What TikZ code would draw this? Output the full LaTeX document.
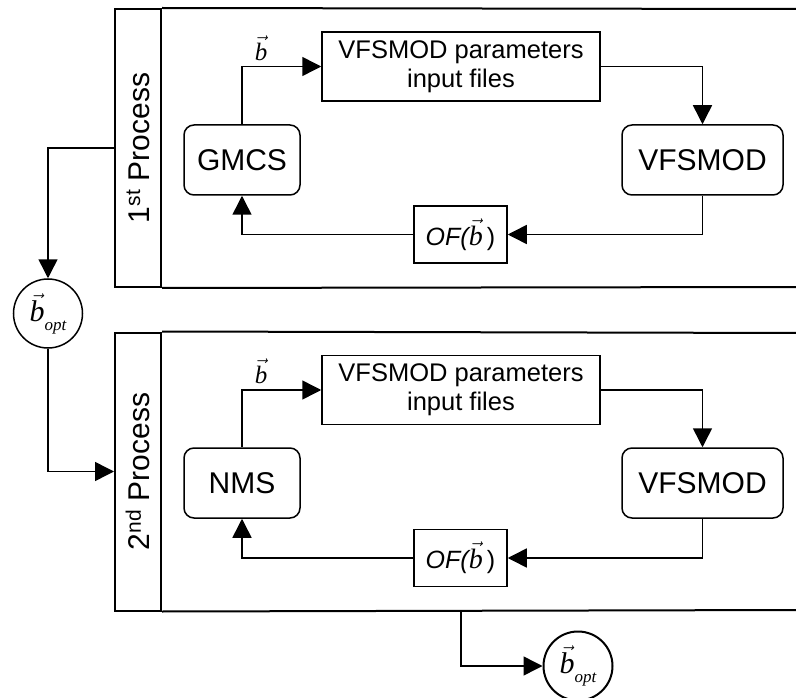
\documentclass[tikz,border=0pt]{standalone}
\usepackage{amsmath}
\usepackage{fontspec}
\setmainfont{Liberation Sans}
\newfontfamily\tmsfont{Liberation Serif}
\usetikzlibrary{arrows.meta}
\newcommand\vecb{\ensuremath{\vec{\text{\tmsfont\itshape b}}}}
\newcommand\bopt{{\fontsize{30}{34}\selectfont\vecb}\raisebox{-9pt}{\fontsize{17}{20}\selectfont\tmsfont\itshape opt}}
\begin{document}
\begin{tikzpicture}[x=1pt, y=-1pt,
  >={Triangle[length=19pt,width=19pt]},
  poolline/.style={line width=2pt},
  lanebox/.style={draw, line width=2pt, minimum width=46pt, minimum height=278pt, inner sep=0pt, font=\fontsize{30}{36}\selectfont},
  proc/.style={draw, line width=1.5pt, rounded corners=10pt, minimum width=116pt, minimum height=70pt, inner sep=0pt, font=\fontsize{30}{36}\selectfont},
  widеproc/.style={},
  inbox/.style={draw, line width=1.5pt, minimum width=278pt, minimum height=69pt, inner sep=0pt, align=center, font=\fontsize{25.5}{29}\selectfont},
  ofbox/.style={draw, line width=1.5pt, minimum width=93pt, minimum height=57pt, inner sep=0pt, font=\fontsize{25}{30}\selectfont},
  optnode/.style={draw, circle, line width=1.5pt, minimum size=69pt, inner sep=0pt},
  vlabel/.style={inner sep=0pt, font=\fontsize{25}{30}\selectfont},
  conn/.style={line width=1.5pt, ->}
]
\useasboundingbox (0,0) rectangle (796,698);

% ---------- Process 1 ----------
\node[lanebox] (lane1) at (138,148) {\rotatebox{90}{1\textsuperscript{st} Process}};
\coordinate (p1tr) at (800,9);
\coordinate (p1br) at (800,287);
\draw[poolline] (lane1.north east) -- (p1tr);
\draw[poolline] (lane1.south east) -- (p1br);

\node[proc] (gmcs) at (242,160) {GMCS};
\node[inbox] (par1) at (461,66.5) {VFSMOD parameters\\input files};
\node[proc, minimum width=161pt] (vf1) at (702.5,160) {VFSMOD};
\node[ofbox] (of1) at (460.5,234.5) {{\itshape OF(}{\fontsize{28}{30}\selectfont\vecb}\,)};
\node[vlabel] (b1) at (261,48) {\vecb};

\draw[conn] (gmcs.north) |- (par1.west);
\draw[conn] (par1.east) -| (vf1.north);
\draw[conn] (vf1.south) |- (of1.east);
\draw[conn] (of1.west) -| (gmcs.south);

% ---------- optimum 1 ----------
\node[optnode] (opt1) at (48,313.5) {\bopt};
\draw[conn] (lane1.west) -| (opt1.north);

% ---------- Process 2 ----------
\node[lanebox] (lane2) at (138,471.5) {\rotatebox{90}{2\textsuperscript{nd} Process}};
\coordinate (p2tr) at (800,333);
\coordinate (p2br) at (800,610);
\draw[poolline] (lane2.north east) -- (p2tr);
\draw[poolline] (lane2.south east) -- (p2br);

\node[proc] (nms) at (242,483) {NMS};
\node[inbox] (par2) at (461,390) {VFSMOD parameters\\input files};
\node[proc, minimum width=161pt] (vf2) at (702.5,483) {VFSMOD};
\node[ofbox] (of2) at (460.5,558) {{\itshape OF(}{\fontsize{28}{30}\selectfont\vecb}\,)};
\node[vlabel] (b2) at (261,371) {\vecb};

\draw[conn] (nms.north) |- (par2.west);
\draw[conn] (par2.east) -| (vf2.north);
\draw[conn] (vf2.south) |- (of2.east);
\draw[conn] (of2.west) -| (nms.south);

\draw[conn] (opt1.south) |- (lane2.west);

% ---------- optimum 2 ----------
\node[optnode, line width=2pt] (opt2) at (578,666) {\bopt};
\coordinate (x2) at (461,610);
\draw[conn] (x2) |- (opt2.west);
\end{tikzpicture}
\end{document}
